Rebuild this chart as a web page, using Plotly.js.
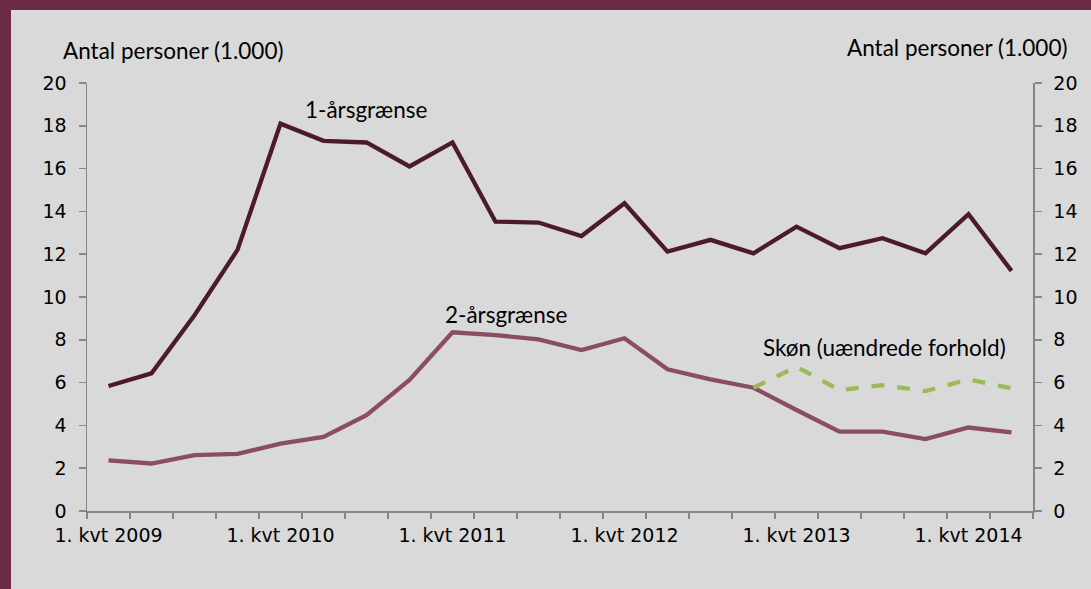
<!DOCTYPE html>
<html>
<head>
<meta charset="utf-8">
<script src="https://cdn.plot.ly/plotly-3.0.1.min.js"></script>
<style>
  html, body { margin: 0; padding: 0; background: #6b2b47; width: 1091px; height: 589px; overflow: hidden; }
  #chart { position: absolute; left: 11px; top: 10px; width: 1080px; height: 579px; }
</style>
</head>
<body>
<div id="chart"></div>
<script>
const quarters = [
  "1. kvt 2009","2. kvt 2009","3. kvt 2009","4. kvt 2009",
  "1. kvt 2010","2. kvt 2010","3. kvt 2010","4. kvt 2010",
  "1. kvt 2011","2. kvt 2011","3. kvt 2011","4. kvt 2011",
  "1. kvt 2012","2. kvt 2012","3. kvt 2012","4. kvt 2012",
  "1. kvt 2013","2. kvt 2013","3. kvt 2013","4. kvt 2013",
  "1. kvt 2014","2. kvt 2014"
];
const aarsgraense1 = [5.84, 6.43, 9.15, 12.2, 18.1, 17.3, 17.22, 16.1, 17.22, 13.52, 13.48, 12.85, 14.38, 12.12, 12.67, 12.04, 13.29, 12.28, 12.75, 12.04, 13.87, 11.22];
const aarsgraense2 = [2.37, 2.22, 2.61, 2.67, 3.15, 3.46, 4.48, 6.12, 8.35, 8.22, 8.02, 7.52, 8.07, 6.62, 6.15, 5.76, 4.72, 3.71, 3.71, 3.36, 3.9, 3.67];
const skoenQuarters = quarters.slice(15);
const skoen = [5.76, 6.74, 5.65, 5.88, 5.6, 6.15, 5.73];
const yTicks = [0, 2, 4, 6, 8, 10, 12, 14, 16, 18, 20];
const axisTitle = "Antal personer (1.000)";

const idx = q => quarters.indexOf(q);
const xAll = quarters.map((q, i) => i);
const labelIdx = quarters.map((q, i) => i).filter(i => quarters[i].startsWith("1."));

const traces = [
  { x: xAll, y: aarsgraense1, type: "scatter", mode: "lines", name: "1-årsgrænse",
    line: { color: "#4b1a2d", width: 4.3 } },
  { x: xAll, y: aarsgraense2, type: "scatter", mode: "lines", name: "2-årsgrænse",
    line: { color: "#8a4d63", width: 4.3 } },
  { x: skoenQuarters.map(idx), y: skoen, type: "scatter", mode: "lines", name: "Skøn (uændrede forhold)",
    line: { color: "#9bbb59", width: 4.3, dash: "dash" }, yaxis: "y2" }
];

const tickFont = { family: "DejaVu Sans, Verdana, sans-serif", size: 19, color: "#000" };
const annFont = { family: "Lato, Open Sans, sans-serif", size: 22.5, color: "#000" };

const layout = {
  width: 1080, height: 579,
  paper_bgcolor: "#d9d9d9", plot_bgcolor: "#d9d9d9",
  margin: { l: 76, r: 58, t: 73, b: 78 },
  showlegend: false,
  xaxis: {
    range: [-0.5, quarters.length - 0.5],
    tickvals: labelIdx, ticktext: labelIdx.map(i => quarters[i]),
    ticks: "", showgrid: false, zeroline: false,
    showline: true, linecolor: "#868686", linewidth: 1.5,
    tickfont: tickFont, ticklabelstandoff: 7,
    minor: { ticks: "outside", tick0: -0.5, dtick: 1, ticklen: 6, tickcolor: "#868686", tickwidth: 1.5, showgrid: false }
  },
  yaxis: {
    range: [0, 20], tickvals: yTicks, ticks: "outside", ticklen: 7,
    tickcolor: "#868686", tickwidth: 1.5, showgrid: false, zeroline: false,
    showline: true, linecolor: "#868686", linewidth: 1.5,
    tickfont: tickFont, ticklabelstandoff: 8
  },
  yaxis2: {
    range: [0, 20], tickvals: yTicks, overlaying: "y", side: "right", ticks: "outside", ticklen: 7,
    tickcolor: "#868686", tickwidth: 1.5, showgrid: false, zeroline: false,
    showline: true, linecolor: "#868686", linewidth: 1.5,
    tickfont: tickFont, ticklabelstandoff: 8
  },
  annotations: [
    { text: axisTitle, xref: "paper", yref: "paper", x: 0.091, y: 1.077, showarrow: false, font: annFont, xanchor: "center", yanchor: "middle" },
    { text: axisTitle, xref: "paper", yref: "paper", x: 0.92, y: 1.082, showarrow: false, font: annFont, xanchor: "center", yanchor: "middle" },
    { text: "1-årsgrænse", x: 6.0, y: 18.76, showarrow: false, font: annFont },
    { text: "2-årsgrænse", x: 9.26, y: 9.17, showarrow: false, font: annFont },
    { text: "Skøn (uændrede forhold)", x: 18.05, y: 7.63, showarrow: false, font: annFont }
  ]
};

Plotly.newPlot("chart", traces, layout, { displayModeBar: false, staticPlot: true });
</script>
</body>
</html>
